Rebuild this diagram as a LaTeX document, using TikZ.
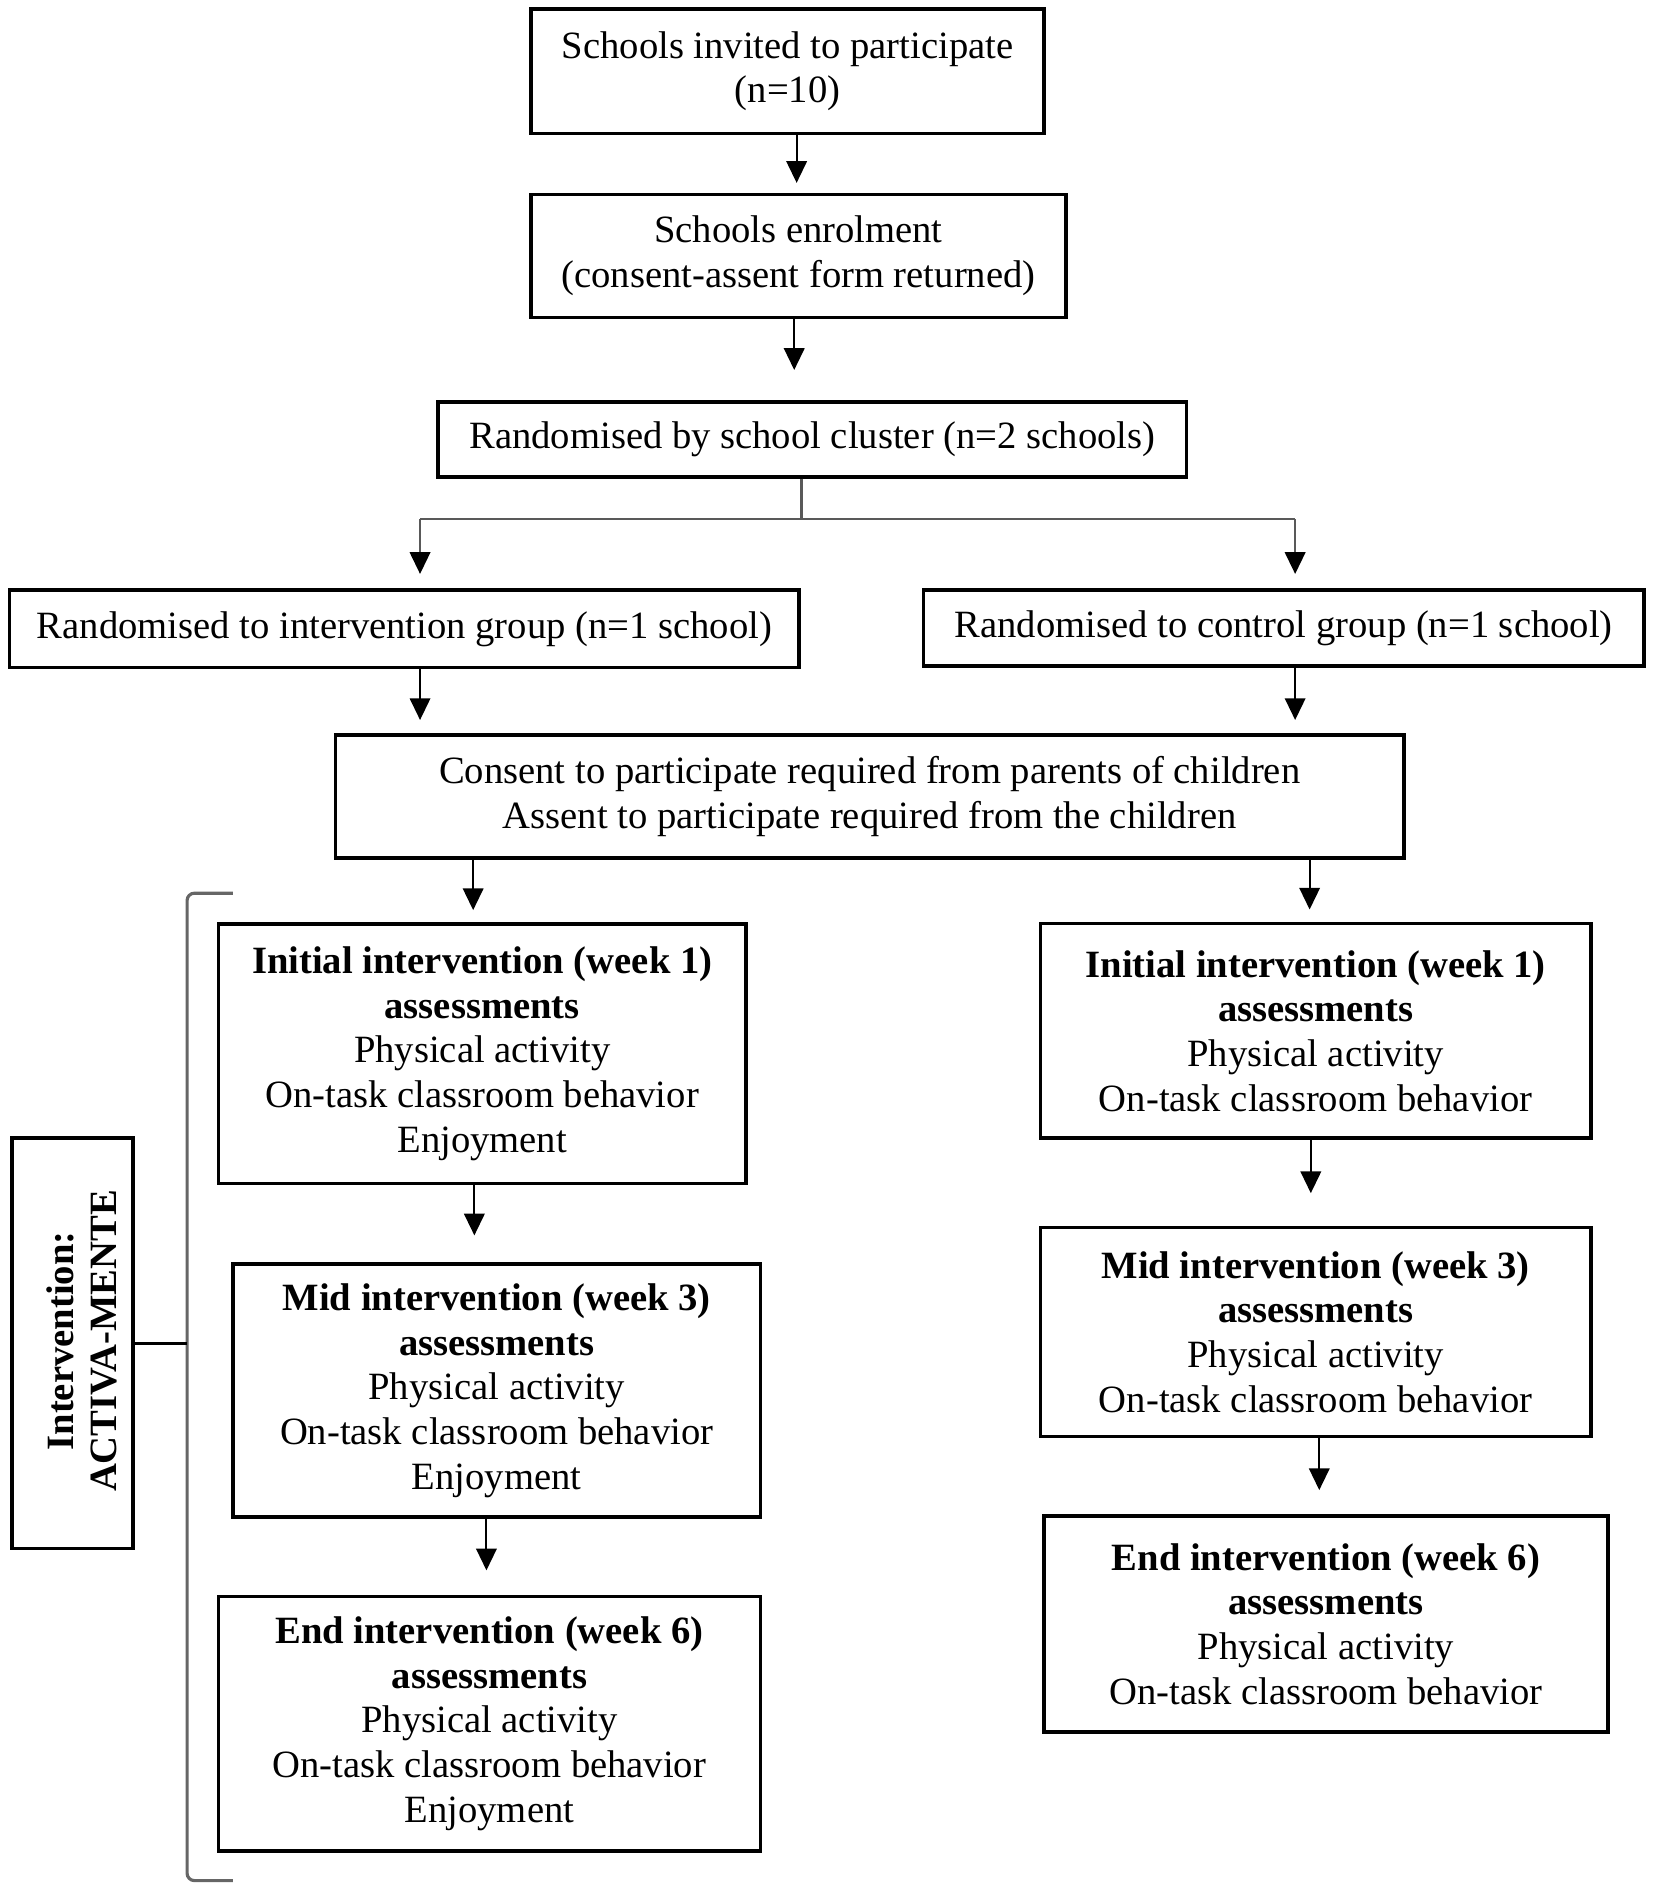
\documentclass[tikz,border=0pt]{standalone}
\usepackage{fontspec}
\setmainfont{Liberation Serif}
\usetikzlibrary{arrows.meta}
\begin{document}
\begin{tikzpicture}[x=0.5pt,y=-0.5pt,
  box/.style={draw=black, line width=1.5pt, inner sep=0pt, align=center,
    font=\fontsize{16}{18.5}\selectfont},
  arr/.style={draw=black, line width=0.8pt, -{Triangle[length=9pt,width=8.5pt,color=black]}},
  split/.style={draw=black!65, line width=1pt},
  brack/.style={draw=black!60, line width=1.3pt, rounded corners=3pt}]
\useasboundingbox (0,0) rectangle (1370,1565);

% top chain
\node[box, minimum width=212.5pt, minimum height=51.5pt] (B1) at (652.5,59)
  {Schools invited to participate\\(n=10)};
\node[box, minimum width=221.5pt, minimum height=51pt] (B2) at (661.5,212)
  {Schools enrolment\\(consent-assent form returned)};
\node[box, minimum width=310pt, minimum height=31pt] (B3) at (673,364)
  {Randomised by school cluster (n=2 schools)};
\node[box, minimum width=327pt, minimum height=32pt] (B4) at (335,521)
  {Randomised to intervention group (n=1 school)};
\node[box, minimum width=298.5pt, minimum height=31.5pt] (B5) at (1063.5,520.5)
  {Randomised to control group (n=1 school)};
\node[box, minimum width=442.5pt, minimum height=51pt] (B6) at (720.5,660)
  {Consent to participate required from parents of children\\Assent to participate required from the children};

% left column
\node[box, minimum width=218.5pt, minimum height=107.5pt] (L1) at (399.5,873)
  {\textbf{Initial intervention (week 1)}\\\textbf{assessments}\\Physical activity\\On-task classroom behavior\\Enjoyment};
\node[box, minimum width=218.5pt, minimum height=105pt] (L2) at (411.5,1152)
  {\textbf{Mid intervention (week 3)}\\\textbf{assessments}\\Physical activity\\On-task classroom behavior\\Enjoyment};
\node[box, minimum width=224.5pt, minimum height=105.5pt] (L3) at (405.5,1428)
  {\textbf{End intervention (week 6)}\\\textbf{assessments}\\Physical activity\\On-task classroom behavior\\Enjoyment};

% right column
\node[box, minimum width=228pt, minimum height=89pt] (R1) at (1090,854)
  {\textbf{Initial intervention (week 1)}\\\textbf{assessments}\\Physical activity\\On-task classroom behavior};
\node[box, minimum width=228pt, minimum height=86.5pt] (R2) at (1090,1103.5)
  {\textbf{Mid intervention (week 3)}\\\textbf{assessments}\\Physical activity\\On-task classroom behavior};
\node[box, minimum width=233.5pt, minimum height=89.5pt] (R3) at (1098.5,1345.5)
  {\textbf{End intervention (week 6)}\\\textbf{assessments}\\Physical activity\\On-task classroom behavior};

% intervention label
\node[box, minimum width=50pt, minimum height=170pt] (IV) at (60,1113) {};
\node[rotate=90, align=center, inner sep=0pt, font=\bfseries\fontsize{16}{18}\selectfont] (IVt) at (68,1111)
  {Intervention:\\ACTIVA-MENTE};

% coordinates
\coordinate (x660) at (660,0);
\coordinate (x658) at (658,0);
\coordinate (sp) at (664,430);
\coordinate (x348) at (348,0);
\coordinate (x1073) at (1073,0);
\coordinate (x392) at (392,0);
\coordinate (x1085) at (1085,0);
\coordinate (x393) at (393,0);
\coordinate (x403) at (403,0);
\coordinate (x1086) at (1086,0);
\coordinate (x1093) at (1093,0);
\coordinate (brk) at (155,0);
\coordinate (bt) at (193,740);
\coordinate (bb) at (193,1558);

% connectors
\draw[arr, shorten >=4pt] (B1.south -| x660) -- (B2.north -| x660);
\draw[arr, shorten >=12.5pt] (B2.south -| x658) -- (B3.north -| x658);
\draw[split] (B3.south -| sp) -- (sp);
\draw[split] (x348 |- sp) -- (x1073 |- sp);
\draw[arr, draw=black!65, shorten >=6pt] (x348 |- sp) -- (B4.north -| x348);
\draw[arr, draw=black!65, shorten >=6pt] (x1073 |- sp) -- (B5.north -| x1073);
\draw[arr, shorten >=5.5pt] (B4.south -| x348) -- (B6.north -| x348);
\draw[arr, shorten >=5.5pt] (B5.south -| x1073) -- (B6.north -| x1073);
\draw[arr, shorten >=5pt] (B6.south -| x392) -- (L1.north -| x392);
\draw[arr, shorten >=5pt] (B6.south -| x1085) -- (R1.north -| x1085);
\draw[arr, shorten >=11pt] (L1.south -| x393) -- (L2.north -| x393);
\draw[arr, shorten >=10pt] (L2.south -| x403) -- (L3.north -| x403);
\draw[arr, shorten >=13.5pt] (R1.south -| x1086) -- (R2.north -| x1086);
\draw[arr, shorten >=10pt] (R2.south -| x1093) -- (R3.north -| x1093);

% bracket
\draw[brack] (bt) -- (brk |- bt) -- (brk |- bb) -- (bb);
\draw[draw=black, line width=1pt] (IV.east) -- (IV.east -| brk);
\end{tikzpicture}
\end{document}
